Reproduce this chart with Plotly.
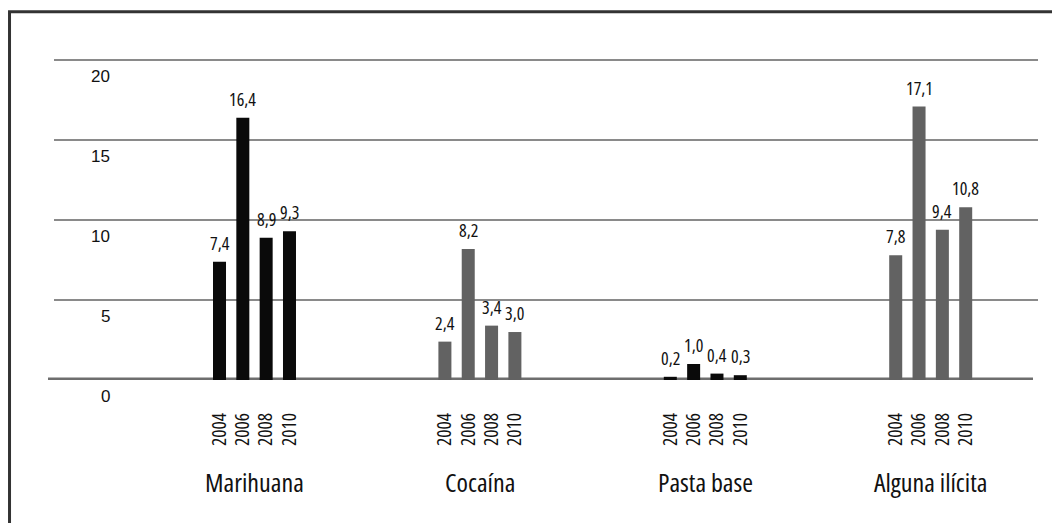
import plotly.graph_objects as go

# ---- data ----
categories = ["Marihuana", "Cocaína", "Pasta base", "Alguna ilícita"]
years = ["2004", "2006", "2008", "2010"]
marihuana = [7.4, 16.4, 8.9, 9.3]
cocaina = [2.4, 8.2, 3.4, 3.0]
pasta_base = [0.2, 1.0, 0.4, 0.3]
alguna_ilicita = [7.8, 17.1, 9.4, 10.8]
y_ticks = [0, 5, 10, 15, 20]

series = [marihuana, cocaina, pasta_base, alguna_ilicita]
bar_colors = ["#0a0a0a", "#626262", "#0a0a0a", "#626262"]

COND = "Open Sans"          # rendered condensed via font-stretch
REG = "Liberation Sans"
PITCH = 0.1035   # spacing between bars within a group (group units)
BAR_W = 0.0577   # bar width (group units)


def cond(s, stretch="75%"):
    return f"<span style='font-stretch:{stretch}'>{s}</span>"


fig = go.Figure()
tickvals, ticktext = [], []
annotations = []

for g, (cat, vals, col) in enumerate(zip(categories, series, bar_colors)):
    xs = [g + (j - (len(years) - 1) / 2) * PITCH for j in range(len(years))]
    fig.add_trace(go.Bar(
        x=xs, y=vals, width=BAR_W, marker=dict(color=col, line=dict(width=0)),
        name=cat, showlegend=False, hoverinfo="skip",
    ))
    tickvals += xs
    ticktext += [cond(y) for y in years]
    for x, v in zip(xs, vals):
        annotations.append(dict(
            x=x, y=v, xref="x", yref="y",
            text=cond(f"{v:.1f}".replace(".", ",")),
            showarrow=False, yanchor="bottom", xanchor="center", yshift=5,
            font=dict(family=COND, size=18, color="#111111"),
        ))
    annotations.append(dict(
        x=g, y=-0.316, xref="x", yref="paper", text=cond(cat), showarrow=False,
        yanchor="middle", xanchor="center",
        font=dict(family=COND, size=26, color="#111111"),
    ))

for t in y_ticks:
    annotations.append(dict(
        x=0.0589, y=t, xref="paper", yref="y", text=str(t), showarrow=False,
        xanchor="right", yanchor="middle", yshift=-16,
        font=dict(family=REG, size=17, color="#111111"),
    ))

shapes = [
    dict(type="line", xref="paper", yref="y", x0=-0.0061, x1=0.9949, y0=0, y1=0,
         line=dict(color="#6e6e6e", width=5), layer="below"),
    dict(type="rect", xref="paper", yref="paper", x0=-0.0452, x1=1.2, y0=-0.8, y1=1.14,
         line=dict(color="#333333", width=3), layer="below"),
]

fig.update_layout(
    width=1052, height=523,
    margin=dict(l=54, r=14, t=57, b=143),
    paper_bgcolor="white", plot_bgcolor="white",
    barmode="overlay",
    annotations=annotations, shapes=shapes,
    xaxis=dict(
        range=[-0.8895, 3.476], tickmode="array", tickvals=tickvals, ticktext=ticktext,
        tickangle=-90, showgrid=False, zeroline=False, showline=False, ticks="",
        tickfont=dict(family=COND, size=19.5, color="#111111"),
        ticklabelstandoff=28,
    ),
    yaxis=dict(
        range=[0, 20.2], tickmode="array", tickvals=[5, 10, 15, 20],
        showticklabels=False, showgrid=True, gridcolor="#8a8a8a", gridwidth=1.5,
        zeroline=False, showline=False,
    ),
)

fig.write_html(
    "out.html",
    config={"displayModeBar": False},
    post_script="document.body.style.margin='0';document.body.style.padding='0';",
)
